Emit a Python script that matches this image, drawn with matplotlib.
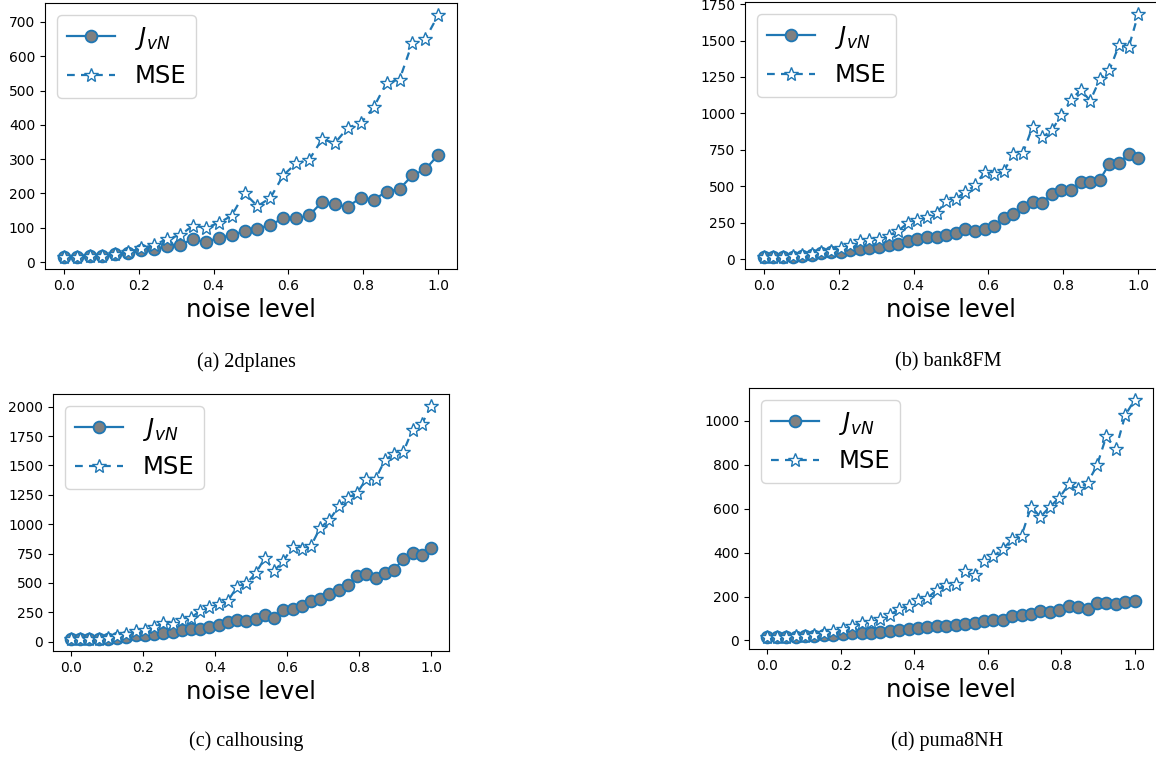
#!/usr/bin/env python3
"""
J_vN vs. MSE as a function of the noise level on four regression datasets.
Output: out.png
"""

import numpy as np
import matplotlib; matplotlib.use('Agg')
import matplotlib.pyplot as plt

plt.rcParams.update({'font.family': 'DejaVu Sans', 'xtick.labelsize': 10,
                     'ytick.labelsize': 10})

# ---- data --------------------------------------------------------------------
noise_30 = np.linspace(0, 1, 30)
noise_40 = np.linspace(0, 1, 40)

jvn_2dplanes = [15, 15, 17, 18, 23, 25, 35, 37, 46, 51, 66, 58, 71, 78, 91,
                97, 109, 127, 127, 136, 175, 168, 161, 188, 182, 205, 213, 253,
                270, 313]
mse_2dplanes = [15, 15, 17, 19, 23, 28, 41, 49, 68, 78, 106, 100, 114, 135,
                201, 163, 187, 253, 288, 298, 358, 347, 392, 405, 451, 523,
                532, 640, 651, 720]

jvn_bank8fm = [16, 16, 16, 18, 23, 30, 43, 50, 48, 62, 73, 80, 84, 96, 103,
               125, 141, 153, 153, 164, 180, 207, 194, 210, 226, 285, 312, 358,
               392, 388, 449, 472, 477, 529, 527, 545, 655, 659, 723, 696]
mse_bank8fm = [16, 16, 16, 21, 27, 34, 50, 57, 80, 100, 125, 130, 137, 162,
               194, 249, 271, 290, 317, 397, 415, 461, 506, 598, 586, 604, 719,
               730, 910, 837, 883, 992, 1093, 1161, 1088, 1234, 1298, 1469,
               1453, 1681]

jvn_calhousing = [20, 20, 20, 20, 26, 31, 40, 54, 57, 63, 71, 85, 97, 108,
                  111, 128, 142, 168, 185, 177, 197, 228, 205, 268, 276, 305,
                  342, 359, 410, 439, 484, 561, 575, 541, 581, 610, 704, 752,
                  741, 798]
mse_calhousing = [20, 20, 20, 23, 28, 46, 63, 91, 97, 125, 157, 148, 188, 205,
                  262, 296, 319, 348, 467, 496, 581, 712, 604, 684, 809, 789,
                  817, 969, 1037, 1151, 1225, 1265, 1387, 1387, 1544, 1601,
                  1615, 1806, 1849, 2009]

jvn_puma8nh = [15, 15, 15, 15, 18, 21, 24, 27, 29, 33, 33, 35, 38, 44, 49, 52,
               56, 61, 67, 67, 72, 75, 81, 87, 93, 94, 113, 117, 122, 132, 128,
               137, 155, 152, 145, 170, 170, 167, 175, 181]
mse_puma8nh = [15, 15, 15, 18, 21, 26, 33, 41, 52, 67, 79, 82, 97, 117, 143,
               158, 183, 193, 231, 254, 259, 318, 300, 361, 383, 417, 460, 478,
               609, 563, 609, 650, 711, 691, 718, 797, 931, 871, 1026, 1096]

captions = ['(a) 2dplanes', '(b) bank8FM', '(c) calhousing', '(d) puma8NH']

# ---- layout (pixel boxes: left, top, right, bottom) --------------------------
W, H = 1156, 760
boxes = [(45, 3, 457, 269), (745, 2, 1157, 269),
         (53, 394, 449, 651), (749, 388, 1153, 649)]
caption_pos = [(246, 362), (948, 362), (246, 741), (947, 741)]

panels = [(noise_30, jvn_2dplanes, mse_2dplanes),
          (noise_40, jvn_bank8fm, mse_bank8fm),
          (noise_40, jvn_calhousing, mse_calhousing),
          (noise_40, jvn_puma8nh, mse_puma8nh)]

fig = plt.figure(figsize=(W / 100, H / 100), dpi=100)

for (x, jvn, mse), (l, t, r, b), cap, (cx, cy) in zip(panels, boxes, captions,
                                                       caption_pos):
    ax = fig.add_axes([l / W, 1 - b / H, (r - l) / W, (b - t) / H])
    ax.plot(x, jvn, '-o', color='C0', lw=1.6, ms=8.5, mfc='gray', mec='C0',
            mew=1.3, label=r'$J_{vN}$')
    ax.plot(x, mse, '--*', color='C0', lw=1.6, ms=10, mfc='white', mec='C0',
            mew=1.0, dashes=(3.5, 2.8), label='MSE')
    ax.set_xlabel('noise level', fontsize=17.5)
    ax.legend(loc='upper left', fontsize=17.5)
    fig.text(cx / W, 1 - cy / H, cap, ha='center', va='center',
             fontsize=14.5, family='Liberation Serif')

plt.savefig('out.png', dpi=100)
plt.close()
